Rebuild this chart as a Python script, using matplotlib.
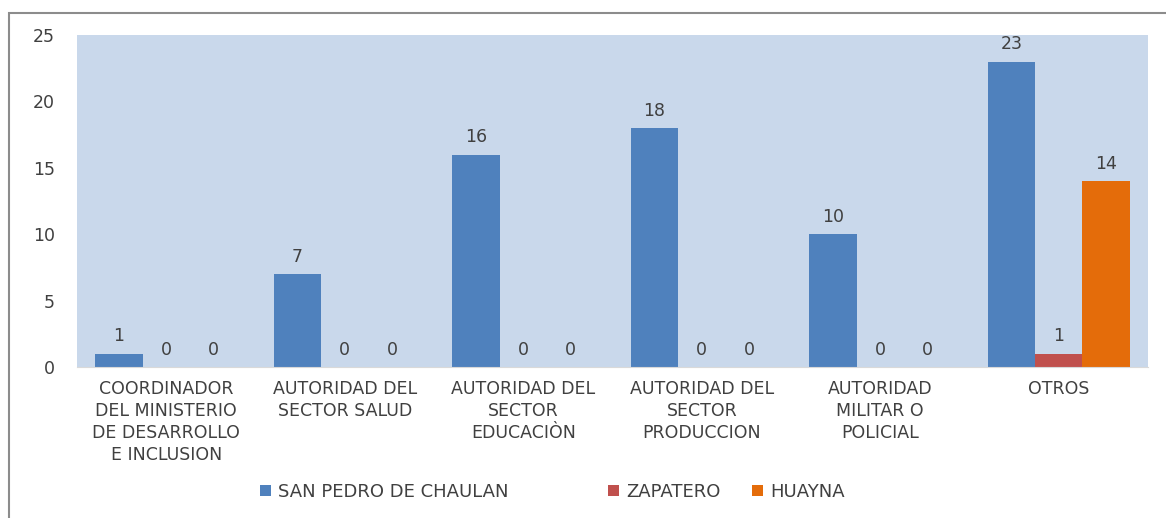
import numpy as np
import matplotlib.pyplot as plt
from matplotlib.patches import Rectangle

categories = [
    "COORDINADOR\nDEL MINISTERIO\nDE DESARROLLO\nE INCLUSION",
    "AUTORIDAD DEL\nSECTOR SALUD",
    "AUTORIDAD DEL\nSECTOR\nEDUCACIÒN",
    "AUTORIDAD DEL\nSECTOR\nPRODUCCION",
    "AUTORIDAD\nMILITAR O\nPOLICIAL",
    "OTROS",
]
series_names = ["SAN PEDRO DE CHAULAN", "ZAPATERO", "HUAYNA"]
san_pedro = [1, 7, 16, 18, 10, 23]
zapatero = [0, 0, 0, 0, 0, 1]
huayna = [0, 0, 0, 0, 0, 14]
colors = ["#4F81BD", "#C0504D", "#E46C0A"]

plt.rcParams['font.family'] = ['DejaVu Sans']

fig = plt.figure(figsize=(11.66, 5.18), dpi=100)
ax = fig.add_axes([77 / 1166, 1 - 367 / 518, (1148 - 77) / 1166, (367 - 35) / 518])
ax.set_facecolor("#C9D8EB")

x = np.arange(len(categories))
w = 0.265
handles = []
for i, (vals, name) in enumerate(zip([san_pedro, zapatero, huayna], series_names)):
    pos = x + (i - 1) * w
    b = ax.bar(pos, vals, width=w, color=colors[i], label=name)
    handles.append(b)
    for p, v in zip(pos, vals):
        ax.annotate(str(v), (p, v), xytext=(0, 6), textcoords="offset points",
                    ha="center", va="bottom", fontsize=12.5, color="#404040")

ax.set_xlim(-0.5, len(categories) - 0.5)
ax.set_ylim(0, 25)
ax.set_yticks(range(0, 26, 5))
ax.set_xticks(x)
ax.set_xticklabels(categories, fontsize=12.5, color="#404040", va="top",
                   multialignment="center", linespacing=1.3)
ax.tick_params(axis="both", length=0, colors="#404040")
ax.tick_params(axis="y", pad=16, labelsize=12.5)
ax.tick_params(axis="x", pad=9)
for s in ["top", "right", "left"]:
    ax.spines[s].set_visible(False)
ax.spines["bottom"].set_color("#D9D9D9")

# Excel-style legend: entries at fixed positions
legend_x = [260, 608, 752]
for h, name, lx in zip(handles, series_names, legend_x):
    lg = fig.legend([h], [name], loc="center left", bbox_to_anchor=(lx / 1166, 1 - 492 / 518),
                    frameon=False, fontsize=13, handlelength=0.6, handleheight=0.6,
                    handletextpad=0.4, borderpad=0, borderaxespad=0, labelcolor="#404040")

fig.patches.append(Rectangle((9 / 1166, -0.1), 1.2, 1 - 13 / 518 + 0.1, transform=fig.transFigure,
                             fill=False, edgecolor="#8C8C8C", linewidth=1.5))

fig.savefig("out.png", dpi=100)
